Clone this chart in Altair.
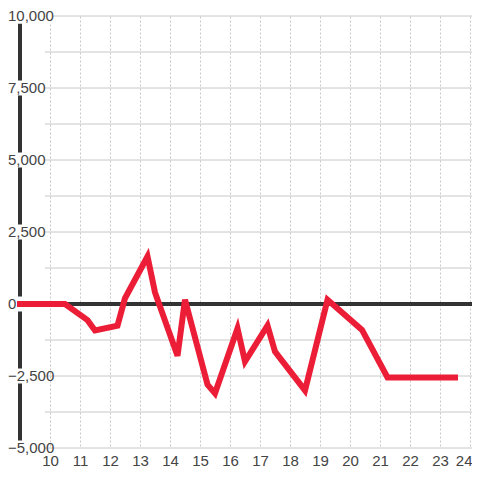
import altair as alt
import pandas as pd

# Data
hours = [9, 10.5, 11.25, 11.5, 12.25, 12.5, 13.25, 13.5, 14.25, 14.5, 15.25,
         15.5, 16.25, 16.5, 17.25, 17.5, 18.5, 19.25, 20.4, 21.25, 23.5]
values = [0, 0, -560, -920, -750, 200, 1650, 400, -1800, 150, -2800,
          -3100, -850, -2000, -750, -1650, -3000, 150, -900, -2550, -2550]

x_ticks = list(range(10, 25))
y_grid = [-5000, -3750, -2500, -1250, 0, 1250, 2500, 3750, 5000, 6250, 7500, 8750, 10000]
y_labels = [-5000, -2500, 0, 2500, 5000, 7500, 10000]

W, H = 452, 432
FONT = "Liberation Sans"
yscale = alt.Scale(domain=[-5000, 10000], nice=False, zero=False)
xscale = alt.Scale(domain=[9, 9 + W / 30], nice=False, zero=False)

line_df = pd.DataFrame({"h": hours, "v": values})
grid_df = pd.DataFrame({"v": y_grid})
lab_df = pd.DataFrame({"v": y_labels})

hgrid = alt.Chart(grid_df).mark_rule(color="#c8c8c8", strokeWidth=1).encode(
    y=alt.Y("v:Q", scale=yscale, axis=None),
    x=alt.value(25), x2=alt.value(W),
)

zero = alt.Chart(grid_df).mark_rule(color="#333333", strokeWidth=3).encode(
    y=alt.datum(0, scale=yscale, axis=None),
    x=alt.value(0), x2=alt.value(W),
)

yline = alt.Chart(grid_df).mark_rule(color="#333333", strokeWidth=3).encode(
    x=alt.value(0),
    y=alt.datum(10000, scale=yscale, axis=None),
    y2=alt.datum(-5000),
)

gaps = alt.Chart(lab_df).transform_calculate(
    lo="datum.v - 260", hi="datum.v + 260"
).mark_rect(color="white").encode(
    y=alt.Y("lo:Q", scale=yscale, axis=None), y2="hi:Q",
    x=alt.value(-4), x2=alt.value(4),
)

gap_top = alt.Chart(lab_df).transform_filter("datum.v == 10000").transform_calculate(
    lo="datum.v - 260", hi="datum.v + 260"
).mark_rect(color="white").encode(
    y=alt.Y("lo:Q", scale=yscale, axis=None), y2="hi:Q",
    x=alt.value(-12), x2=alt.value(33),
)

labels = alt.Chart(lab_df).mark_text(
    align="left", baseline="middle", fontSize=15, font=FONT, color="#444444"
).encode(
    y=alt.Y("v:Q", scale=yscale, axis=None),
    x=alt.value(-12),
    text=alt.Text("v:Q", format=","),
)

line = alt.Chart(line_df).mark_line(
    color="#ec1e37", strokeWidth=6, strokeCap="square", strokeJoin="miter"
).encode(
    x=alt.X("h:Q", scale=xscale, title=None,
            axis=alt.Axis(values=x_ticks, grid=True, gridDash=[2, 2], gridColor="#c8c8c8",
                          gridWidth=1, domain=False, ticks=False, tickSize=0,
                          labelFontSize=15, labelFont=FONT, labelColor="#444444",
                          labelPadding=5, format="d", labelFlush=3,
                          labelFlushOffset=2)),
    y=alt.Y("v:Q", scale=yscale, axis=None),
)

chart = alt.layer(hgrid, zero, yline, gaps, gap_top, labels, line).properties(
    width=W, height=H,
    autosize=alt.AutoSizeParams(type="none"),
    padding={"left": 12, "top": 8, "right": 0, "bottom": 24},
    background="white",
).configure_view(stroke=None)

chart.save("out.html", embed_options={"renderer": "svg", "actions": False})
